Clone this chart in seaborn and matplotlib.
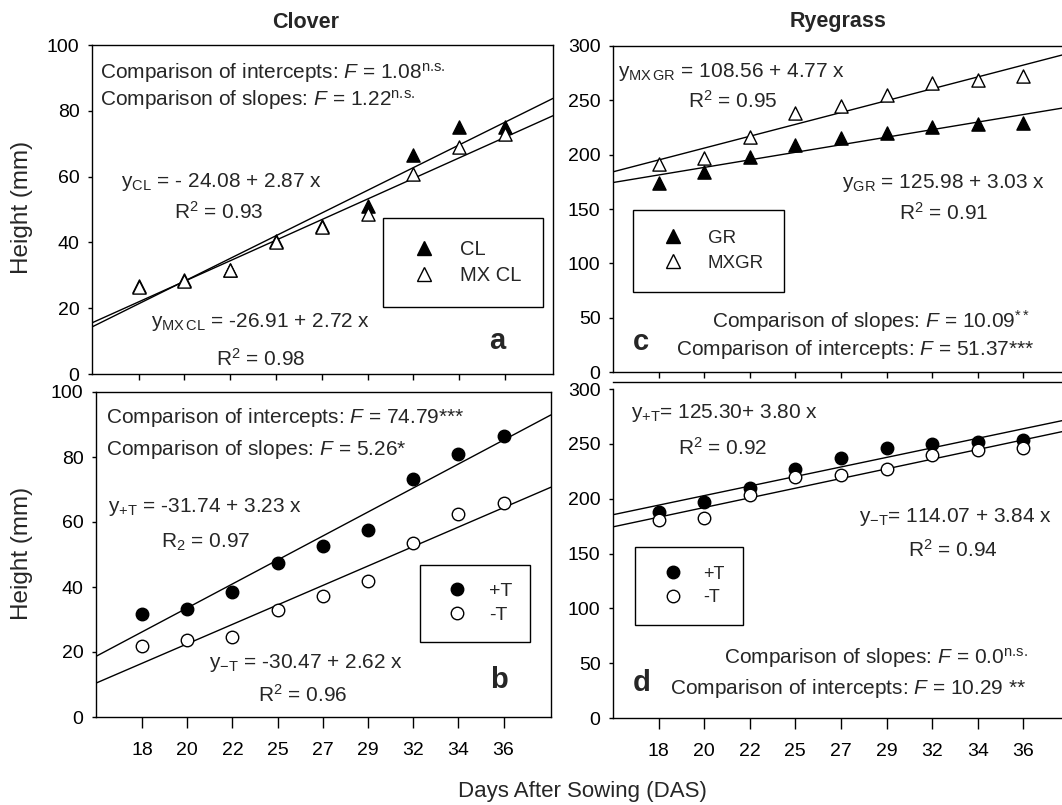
import numpy as np
import pandas as pd
import matplotlib
matplotlib.use("Agg")
import matplotlib.pyplot as plt
from matplotlib.lines import Line2D
import seaborn as sns

# ---------------- data ----------------
das = ["18", "20", "22", "25", "27", "29", "32", "34", "36"]

clover_cl = [26.8, 28.6, 31.6, 40.3, 45.0, 51.2, 66.7, 75.0, 75.2]
clover_mxcl = [26.5, 28.2, 31.6, 40.0, 44.8, 48.6, 60.8, 68.9, 73.0]

clover_plus_t = [31.6, 33.2, 38.4, 47.4, 52.5, 57.5, 73.3, 80.8, 86.6]
clover_minus_t = [21.9, 23.8, 24.6, 32.8, 37.3, 42.0, 53.5, 62.4, 66.0]

rye_gr = [174, 184, 198, 209, 215, 220, 225, 228, 229]
rye_mxgr = [191, 197, 216, 238.6, 245, 255, 265.6, 268.7, 272]

rye_plus_t = [188, 197, 210, 227.5, 237, 246.4, 249.5, 251.3, 253.4]
rye_minus_t = [180.6, 182, 203.5, 219.6, 222, 227.5, 239.7, 244.3, 246]

# ---------------- style ----------------
sns.set_style("ticks")
plt.rcParams["font.family"] = ["Liberation Sans", "DejaVu Sans"]
plt.rcParams["mathtext.fontset"] = "custom"
plt.rcParams["mathtext.rm"] = "Liberation Sans"
plt.rcParams["mathtext.it"] = "Liberation Sans:italic"
plt.rcParams["mathtext.bf"] = "Liberation Sans:bold"
plt.rcParams["mathtext.default"] = "regular"
plt.rcParams["axes.linewidth"] = 1.0

W, H = 1062, 805
fig = plt.figure(figsize=(W / 100, H / 100), dpi=100)


def add_ax(left, top, right, bottom):
    return fig.add_axes([left / W, 1 - bottom / H, (right - left) / W, (bottom - top) / H])


ax_a = add_ax(92, 45, 553, 374)
ax_c = add_ax(613, 46, 1062, 372)
ax_b = add_ax(96, 392, 551, 717)
ax_d = add_ax(613, 389, 1062, 718)

pos = np.arange(len(das))
TS = 15.0   # annotation font size
TICK = 14.0
LET = 21
NS = r"$^{n.\!s.}$"


def draw(ax, ys, marker, filled, ms):
    sns.regplot(
        x=pos, y=np.array(ys, dtype=float), ax=ax, ci=None, truncate=False,
        marker=marker,
        scatter_kws=dict(s=ms ** 2, facecolors="black" if filled else "white",
                         edgecolors="black", linewidths=1.0, alpha=1, zorder=3),
        line_kws=dict(color="black", lw=1.0, zorder=2),
    )


def setup(ax, xlim, ylim, yticks, bottom_row, right_panel):
    ax.set_xlim(*xlim)
    ax.set_ylim(*ylim)
    ax.set_yticks(yticks)
    ax.set_xticks(pos)
    for s in ax.spines.values():
        s.set_linewidth(1.0)
        s.set_color("black")
    if right_panel:
        ax.spines["right"].set_visible(False)
    ax.tick_params(axis="y", direction="out", length=3, width=1, labelsize=TICK, pad=6, colors="black")
    if bottom_row:
        ax.set_xticklabels(das)
        ax.tick_params(axis="x", direction="out", length=8, width=1, labelsize=TICK, pad=10, colors="black")
    else:
        ax.set_xticklabels([])
        ax.tick_params(axis="x", direction="out", length=4, width=1, colors="black")
    ax.set_xlabel("")
    ax.set_ylabel("")


def legend(ax, labels, markers, fills, ms, x, y, fs, bp, hl, htp, ls):
    handles = [Line2D([], [], ls="none", marker=m, markersize=ms,
                      markerfacecolor="black" if f else "white",
                      markeredgecolor="black", markeredgewidth=1.0)
               for m, f in zip(markers, fills)]
    leg = ax.legend(handles, labels, loc="upper left", bbox_to_anchor=(x, y),
                    borderaxespad=0, frameon=True, fancybox=False, framealpha=1,
                    edgecolor="black", fontsize=fs, borderpad=bp, handlelength=hl,
                    handletextpad=htp, labelspacing=ls)
    leg.get_frame().set_linewidth(1.0)


XL_LEFT = (-1.02, 9.05)
XL_RIGHT = (-1.0, 8.85)


def txt(ax, x, y, s, **kw):
    ax.text(x, y, s, transform=ax.transAxes, fontsize=kw.pop("fontsize", TS), va="center", **kw)


# ---- panel a ----
ax = ax_a
ax.set_xlim(*XL_LEFT)
draw(ax, clover_cl, "^", True, 9.5)
draw(ax, clover_mxcl, "^", False, 9.5)
setup(ax, XL_LEFT, (0, 100), [0, 20, 40, 60, 80, 100], False, False)
txt(ax, 0.017, 0.915, r"Comparison of intercepts: $\it{F}$ = 1.08" + NS)
txt(ax, 0.017, 0.833, r"Comparison of slopes: $\it{F}$ = 1.22" + NS)
txt(ax, 0.063, 0.584, r"y$_{CL}$ = - 24.08 + 2.87 x")
txt(ax, 0.178, 0.492, r"R$^{2}$ = 0.93")
txt(ax, 0.128, 0.158, r"y$_{MX\,CL}$ = -26.91 + 2.72 x")
txt(ax, 0.27, 0.046, r"R$^{2}$ = 0.98")
txt(ax, 0.88, 0.10, "a", fontsize=LET, fontweight="bold", ha="center")
legend(ax, ["CL", "MX CL"], ["^", "^"], [True, False], 9.5, 0.631, 0.474, 14.5, 1.08, 1.91, 0.84, 0.38)

# ---- panel c ----
ax = ax_c
ax.set_xlim(*XL_RIGHT)
draw(ax, rye_gr, "^", True, 9.5)
draw(ax, rye_mxgr, "^", False, 9.5)
setup(ax, XL_RIGHT, (0, 300), [0, 50, 100, 150, 200, 250, 300], False, True)
txt(ax, 0.012, 0.92, r"y$_{MX\,GR}$ = 108.56 + 4.77 x")
txt(ax, 0.167, 0.831, r"R$^{2}$ = 0.95")
txt(ax, 0.51, 0.58, r"y$_{GR}$ = 125.98 + 3.03 x")
txt(ax, 0.637, 0.488, r"R$^{2}$ = 0.91")
txt(ax, 0.22, 0.156, r"Comparison of slopes: $\it{F}$ = 10.09$^{**}$")
txt(ax, 0.14, 0.07, r"Comparison of intercepts: $\it{F}$ = 51.37***")
txt(ax, 0.062, 0.092, "c", fontsize=LET, fontweight="bold", ha="center")
legend(ax, ["GR", "MXGR"], ["^", "^"], [True, False], 9.5, 0.044, 0.497, 13.5, 1.06, 2.18, 0.77, 0.42)

# ---- panel b ----
ax = ax_b
ax.set_xlim(*XL_LEFT)
draw(ax, clover_plus_t, "o", True, 9.0)
draw(ax, clover_minus_t, "o", False, 9.0)
setup(ax, XL_LEFT, (0, 100), [0, 20, 40, 60, 80, 100], True, False)
txt(ax, 0.021, 0.923, r"Comparison of intercepts: $\it{F}$ = 74.79***")
txt(ax, 0.021, 0.822, r"Comparison of slopes: $\it{F}$ = 5.26*")
txt(ax, 0.027, 0.646, r"y$_{+T}$ = -31.74 + 3.23 x")
txt(ax, 0.142, 0.538, r"R$_{2}$ = 0.97")
txt(ax, 0.248, 0.166, r"y$_{-T}$ = -30.47 + 2.62 x")
txt(ax, 0.357, 0.068, r"R$^{2}$ = 0.96")
txt(ax, 0.886, 0.114, "b", fontsize=LET, fontweight="bold", ha="center")
legend(ax, ["+T", "-T"], ["o", "o"], [True, False], 9.0, 0.712, 0.468, 14.0, 0.91, 2.0, 0.64, 0.32)

# ---- panel d ----
ax = ax_d
ax.set_xlim(*XL_RIGHT)
draw(ax, rye_plus_t, "o", True, 9.0)
draw(ax, rye_minus_t, "o", False, 9.0)
setup(ax, XL_RIGHT, (0, 300), [0, 50, 100, 150, 200, 250, 300], True, True)
ax.spines["top"].set_position(("outward", 5))
txt(ax, 0.041, 0.927, r"y$_{+T}$= 125.30+ 3.80 x")
txt(ax, 0.144, 0.82, r"R$^{2}$ = 0.92")
txt(ax, 0.547, 0.611, r"y$_{-T}$= 114.07 + 3.84 x")
txt(ax, 0.658, 0.51, r"R$^{2}$ = 0.94")
txt(ax, 0.248, 0.182, r"Comparison of slopes: $\it{F}$ = 0.0" + NS)
txt(ax, 0.128, 0.091, r"Comparison of intercepts: $\it{F}$ = 10.29 **")
txt(ax, 0.065, 0.106, "d", fontsize=LET, fontweight="bold", ha="center")
legend(ax, ["+T", "-T"], ["o", "o"], [True, False], 9.0, 0.049, 0.52, 13.0, 1.04, 2.13, 0.6, 0.36)

# ---- figure-level labels ----
fig.text(306 / W, 1 - 22 / H, "Clover", fontsize=15.5, fontweight="bold", ha="center", va="center")
fig.text(838 / W, 1 - 22 / H, "Ryegrass", fontsize=15.5, fontweight="bold", ha="center", va="center")
fig.text(22 / W, 1 - 207 / H, "Height (mm)", fontsize=17.5, rotation=90, ha="center", va="center")
fig.text(22 / W, 1 - 553 / H, "Height (mm)", fontsize=17.5, rotation=90, ha="center", va="center")
fig.text(582 / W, 1 - 791 / H, "Days After Sowing (DAS)", fontsize=16, ha="center", va="center")

fig.savefig("out.png", dpi=100)
